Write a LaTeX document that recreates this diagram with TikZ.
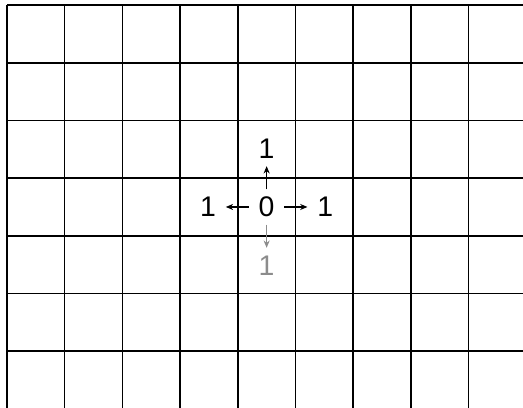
\documentclass[tikz,border=0pt]{standalone}
\usepackage{fontspec}
\setmainfont{Liberation Sans}
\usetikzlibrary{arrows.meta,positioning}
\tikzset{
  cellnum/.style={circle,inner sep=0pt,minimum size=0.6cm,font=\fontsize{14}{16}\selectfont},
  ghostnum/.style={cellnum,text=black!45},
  gridline/.style={line width=0.8pt,draw=black},
  steparr/.style={-{Stealth[length=3.6pt,width=3pt]},line width=0.55pt,color=black},
  ghostarr/.style={steparr,color=black!45}
}

\begin{document}
\begin{tikzpicture}[node distance=0.4cm]
  \useasboundingbox (0,0) rectangle (9.064,7.054);
  \begin{scope}
    \clip (0,0) rectangle (9.064,7.054);
    \draw[gridline,shift={(0.121,-0.033)}] (0,-1) grid (9.5,7);
  \end{scope}

  \node[cellnum] (zero) at (4.621,3.467) {0};
  \node[cellnum,above=of zero] (north) {1};
  \node[cellnum,left=of zero] (west) {1};
  \node[cellnum,right=of zero] (east) {1};
  \node[ghostnum,below=of zero] (south) {1};

  \draw[steparr] (zero)--(north);
  \draw[steparr] (zero)--(west);
  \draw[steparr] (zero)--(east);
  \draw[ghostarr] (zero)--(south);
\end{tikzpicture}
\end{document}
